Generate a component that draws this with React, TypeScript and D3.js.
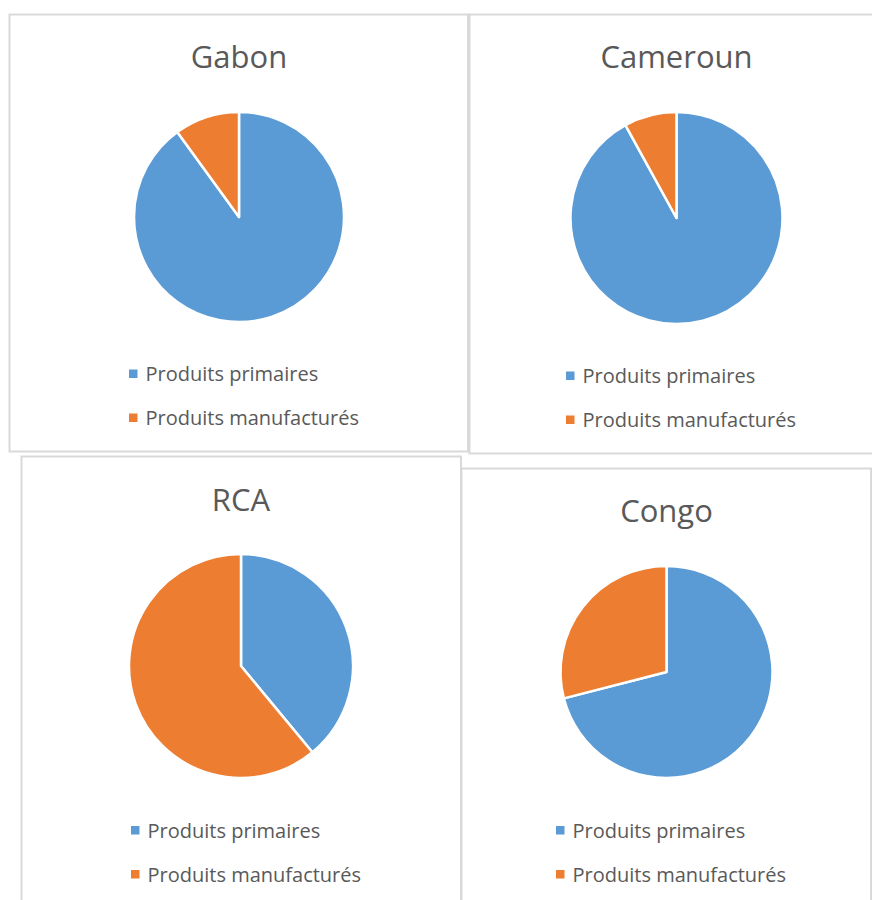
import * as d3 from 'd3';
import React, { useEffect, useRef } from 'react';

// Data (share of exports, %)
const countries = ['Gabon', 'Cameroun', 'RCA', 'Congo'];
const categories = ['Produits primaires', 'Produits manufacturés'];
const primaires = [90, 92, 39, 71];
const manufactures = [10, 8, 61, 29];

const colors = ['#5B9BD5', '#ED7D31'];

// Where each chart box sits on the page
const panels = [
  { x: 9.5, y: 14.5, w: 458.5, h: 437, cx: 239, cy: 217, r: 105, titleY: 68, legX: 129, legY: 374 },
  { x: 469.5, y: 14.5, w: 430, h: 439, cx: 676.5, cy: 218, r: 106, titleY: 68, legX: 566, legY: 376 },
  { x: 21.5, y: 456.5, w: 439.5, h: 470, cx: 241, cy: 666, r: 112, titleY: 511, legX: 131, legY: 830.5 },
  { x: 461.5, y: 468.5, w: 409.5, h: 460, cx: 666.5, cy: 672, r: 106, titleY: 522, legX: 556, legY: 830.5 },
];

const App = () => {
  const svgRef = useRef<SVGSVGElement>(null);

  useEffect(() => {
    const width = 872;
    const height = 900;

    const svg = d3.select(svgRef.current);
    svg.selectAll('*').remove();
    svg.attr('width', width).attr('height', height);

    const pie = d3.pie<number>().sort(null).value(d => d);

    countries.forEach((name, i) => {
      const p = panels[i];
      const g = svg.append('g');

      // Chart box
      g.append('rect')
        .attr('x', p.x)
        .attr('y', p.y)
        .attr('width', p.w)
        .attr('height', p.h)
        .attr('fill', '#fff')
        .attr('stroke', '#d9d9d9')
        .attr('stroke-width', 2);

      // Title
      g.append('text')
        .attr('x', p.cx)
        .attr('y', p.titleY)
        .attr('text-anchor', 'middle')
        .attr('font-family', '"Open Sans", sans-serif')
        .attr('font-size', 31)
        .attr('fill', '#595959')
        .text(name);

      // Slices
      const arc = d3.arc<d3.PieArcDatum<number>>().innerRadius(0).outerRadius(p.r);
      g.append('g')
        .attr('transform', `translate(${p.cx},${p.cy})`)
        .selectAll('path')
        .data(pie([primaires[i], manufactures[i]]))
        .enter()
        .append('path')
        .attr('d', arc)
        .attr('fill', (d, j) => colors[j])
        .attr('stroke', '#fff')
        .attr('stroke-width', 2.5)
        .attr('stroke-linejoin', 'round');

      // Legend
      const leg = g.append('g').attr('transform', `translate(${p.legX},${p.legY})`);
      categories.forEach((cat, j) => {
        leg.append('rect')
          .attr('x', 0)
          .attr('y', j * 44 - 4.5)
          .attr('width', 8.5)
          .attr('height', 8.5)
          .attr('fill', colors[j]);
        leg.append('text')
          .attr('x', 16.5)
          .attr('y', j * 44)
          .attr('dy', '0.35em')
          .attr('font-family', '"Open Sans", sans-serif')
          .attr('font-size', 20)
          .attr('fill', '#595959')
          .text(cat);
      });
    });
  }, []);

  return <svg ref={svgRef} style={{ position: 'absolute', left: 0, top: 0 }}></svg>;
};

export default App;
